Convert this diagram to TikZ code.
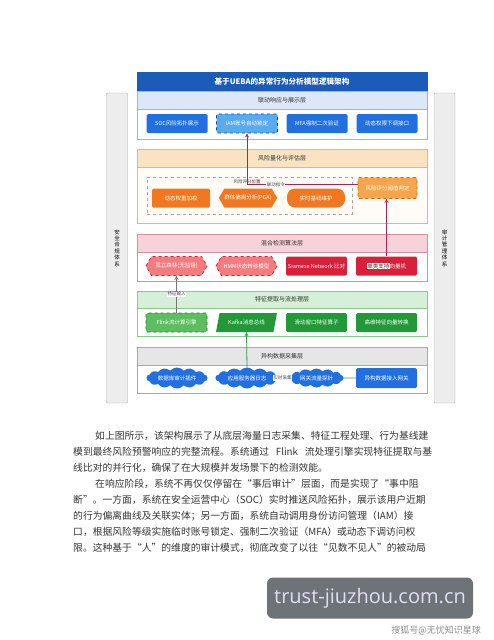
\documentclass[tikz,border=0pt]{standalone}
\usepackage{fontspec}
\setmainfont{Noto Sans CJK SC}
\newfontfamily\urlfont{Open Sans}
\usetikzlibrary{positioning,shapes.geometric,shapes.misc,shapes.symbols,backgrounds}

\XeTeXlinebreaklocale "zh"
\XeTeXlinebreakskip=0pt plus 2pt

\definecolor{titleblue}{HTML}{1B5CB8}
\definecolor{boxblue}{HTML}{2270E0}
\definecolor{lightblue}{HTML}{5AAAF0}
\definecolor{headblue}{HTML}{DCE8F7}
\definecolor{lineblue}{HTML}{9AB5D8}
\definecolor{boxorange}{HTML}{F07820}
\definecolor{lightorange}{HTML}{F6A54A}
\definecolor{headorange}{HTML}{FBE2C2}
\definecolor{lineorange}{HTML}{E6B47E}
\definecolor{boxred}{HTML}{D8203A}
\definecolor{lightred}{HTML}{F47C80}
\definecolor{headred}{HTML}{F6D2DA}
\definecolor{linered}{HTML}{D890A0}
\definecolor{boxgreen}{HTML}{229838}
\definecolor{lightgreen}{HTML}{5CBE60}
\definecolor{headgreen}{HTML}{D6EFD8}
\definecolor{linegreen}{HTML}{8AC890}
\definecolor{headgray}{HTML}{E6E6E6}
\definecolor{linegray}{HTML}{A8A8A8}
\definecolor{linkred}{HTML}{B02050}
\definecolor{linkgreen}{HTML}{30A040}
\definecolor{bodytext}{HTML}{333333}
\definecolor{markgray}{HTML}{6E7377}
\definecolor{marktext}{HTML}{E2DDF6}

\begin{document}
\begin{tikzpicture}[x=1pt, y=-1pt, >=stealth, node distance=70pt]
    \tikzstyle{layer} = [draw, rectangle, minimum width=290pt, inner sep=0pt, line width=0.6pt]
    \tikzstyle{format} = [rectangle, rounded corners=1.5pt, minimum width=61pt, minimum height=19pt, inner sep=0pt, text=white, font=\fontsize{5.5}{6}\selectfont]
    \tikzstyle{hexa} = [signal, signal to=east and west, signal pointer angle=120, rounded corners=0pt]
    \tikzstyle{puff} = [cloud, cloud puffs=14, cloud puff arc=100, cloud ignores aspect, rounded corners=0pt]
    \tikzstyle{headtext} = [text=black!80, font=\fontsize{6}{7}\selectfont]
    \tikzstyle{side} = [draw=linegray, fill=black!7, rounded corners=1pt, minimum width=21pt, minimum height=310pt, inner sep=0pt, align=center, font=\fontsize{5.5}{6.4}\selectfont]
    \tikzstyle{tag} = [inner sep=0.6pt, font=\fontsize{4.5}{5}\selectfont, text=black!75]
    \tikzstyle{para} = [anchor=west, inner sep=0pt, text=bodytext, font=\fontsize{9.8}{12}\selectfont]

    \useasboundingbox (0,0) rectangle (494,640);

    \node[side] (SL) at (117,248) {安\\全\\合\\规\\体\\系};
    \node[side] (SR) at (444.5,248) {审\\计\\管\\理\\体\\系};

    \node[layer, draw=titleblue, fill=titleblue, minimum height=19pt, text=white, font=\bfseries\fontsize{7.6}{8}\selectfont] (T) at (282,81.5) {基于UEBA的异常行为分析模型逻辑架构};

    \node[layer, draw=lineblue, fill=headblue, minimum height=18pt, headtext] (H1) at (282,100) {联动响应与展示层};
    \node[layer, draw=lineblue, fill=white, minimum height=30pt] (K1) at (282,124) {};
    \path
      node[format, fill=boxblue] (R1) at (177,123.5) {SOC风险拓扑展示}
      node[format, fill=lightblue, draw=titleblue!80!black, dashed, thick, right of=R1] (R2) {IAM账号自动锁定}
      node[format, fill=boxblue, right of=R2] (R3) {MFA强制二次验证}
      node[format, fill=boxblue, right of=R3] (R4) {动态权限下调接口};

    \node[layer, draw=lineorange, fill=headorange, minimum height=18pt, headtext] (H2) at (282,158) {风险量化与评估层};
    \node[layer, draw=lineorange, fill=orange!3, minimum height=56pt] (K2) at (282,195) {};
    \node[draw=black!35, dashed, minimum width=205pt, minimum height=37pt, inner sep=0pt] (G) at (249.5,195.5) {};
    \path
      node[format, fill=boxorange, minimum width=58pt] (Q1) at (181,198) {动态权重加权}
      node[format, hexa, fill=boxorange, minimum width=58pt] (Q2) at (248,198) {群体偏离分析(PGA)}
      node[format, fill=boxorange, rounded corners=8pt, minimum width=58pt] (Q3) at (316,198) {实时基线维护}
      node[format, fill=lightorange, draw=boxorange!85!black, dashed, thick, minimum width=59pt, minimum height=21pt] (Q4) at (387.5,188) {风险评分阈值判定};

    \node[layer, draw=linered, fill=headred, minimum height=18pt, headtext] (H3) at (282,243) {混合检测算法层};
    \node[layer, draw=linered, fill=white, minimum height=29pt] (K3) at (282,266.5) {};
    \path
      node[format, hexa, fill=lightred, draw=boxred, dashed, thick] (D1) at (176.5,266) {孤立森林(无监督)}
      node[format, hexa, fill=lightred, draw=boxred, dashed, thick, right of=D1] (D2) {HMM状态转移模型}
      node[format, fill=boxred, right of=D2] (D3) {Siamese Network 比对}
      node[format, fill=boxred, right of=D3] (D4) {\setlength{\fboxsep}{0.4pt}\colorbox{white}{\textcolor{black!80}{单类支持}}向量机};

    \node[layer, draw=linegreen, fill=headgreen, minimum height=17pt, headtext] (H4) at (282,299.5) {特征提取与流处理层};
    \node[layer, draw=linegreen, fill=white, minimum height=28pt] (K4) at (282,322) {};
    \path
      node[format, fill=lightgreen, draw=boxgreen!80!black, dashed, thick] (F1) at (176.5,322.5) {Flink流计算引擎}
      node[format, trapezium, trapezium left angle=65, trapezium right angle=115, trapezium stretches=true, rounded corners=0pt, fill=boxgreen, right of=F1] (F2) {Kafka消息总线}
      node[format, fill=boxgreen, right of=F2] (F3) {滑动窗口特征算子}
      node[format, fill=boxgreen, right of=F3] (F4) {高维特征向量转换};

    \node[layer, draw=linegray, fill=headgray, minimum height=18pt, headtext] (H5) at (282,356) {异构数据采集层};
    \node[layer, draw=linegray, minimum height=28pt] (K5) at (282,379) {};
    \path
      node[format, puff, fill=boxblue, minimum height=21pt] (C1) at (177,378) {数据库审计插件}
      node[format, puff, fill=boxblue, minimum height=21pt, minimum width=63pt] (C2) at (247,378) {应用服务器日志}
      node[format, puff, fill=boxblue, minimum height=19pt, minimum width=54pt] (C3) at (316.5,378) {网关流量探针}
      node[format, fill=boxblue, minimum height=20pt] (C4) at (386.5,378) {异构数据接入网关};

    \draw[->, linkred, thick] ([yshift=3.5pt]Q4.west) -| node[tag, pos=0.5, above=0pt] {风险评分位置} node[tag, fill=white, pos=0.37] {联动指令} (R2.south);
    \draw[->, linkred, thick] (D4.north) -- (D4.north |- Q4.south);
    \draw[->, black!55, thick] (F1.north) -- node[tag, fill=white] {特征输入} (D1.south);
    \draw[->, linkgreen, thick] (C2.north) -- (F2.south);
    \begin{pgfonlayer}{background}
        \draw[linkgreen, thick] (C4.west) -- (C2.east);
    \end{pgfonlayer}
    \path (C2.east) -- node[tag, fill=white, pos=0.05] {实时采集} (C4.west);

    \node[para] (P1) at (95,436) {\hbox to 337pt{如上图所示，该架构展示了从底层海量日志采集、特征工程处理、行为基线建}};
    \node[para] (P2) at (73,452) {\hbox to 359pt{模到最终风险预警响应的完整流程。系统通过 Flink 流处理引擎实现特征提取与基}};
    \node[para] (P3) at (73,468) {线比对的并行化，确保了在大规模并发场景下的检测效能。};
    \node[para] (P4) at (95,484) {\hbox to 337pt{在响应阶段，系统不再仅仅停留在“事后审计”层面，而是实现了“事中阻}};
    \node[para] (P5) at (73,500) {\hbox to 359pt{断”。一方面，系统在安全运营中心（SOC）实时推送风险拓扑，展示该用户近期}};
    \node[para] (P6) at (73,516) {\hbox to 359pt{的行为偏离曲线及关联实体；另一方面，系统自动调用身份访问管理（IAM）接}};
    \node[para] (P7) at (73,532) {\hbox to 359pt{口，根据风险等级实施临时账号锁定、强制二次验证（MFA）或动态下调访问权}};
    \node[para] (P8) at (73,548) {\hbox to 359pt{限。这种基于“人”的维度的审计模式，彻底改变了以往“见数不见人”的被动局}};

    \node[fill=markgray, rounded corners=6pt, minimum width=206pt, minimum height=41pt, text=marktext, font=\urlfont\fontsize{20}{22}\selectfont] (W) at (370,598) {trust-jiuzhou.com.cn};
    \node[anchor=east, inner sep=0pt, text=black!45, font=\fontsize{9}{10}\selectfont] (S) at (481,630) {搜狐号@无忧知识星球};
\end{tikzpicture}
\end{document}
